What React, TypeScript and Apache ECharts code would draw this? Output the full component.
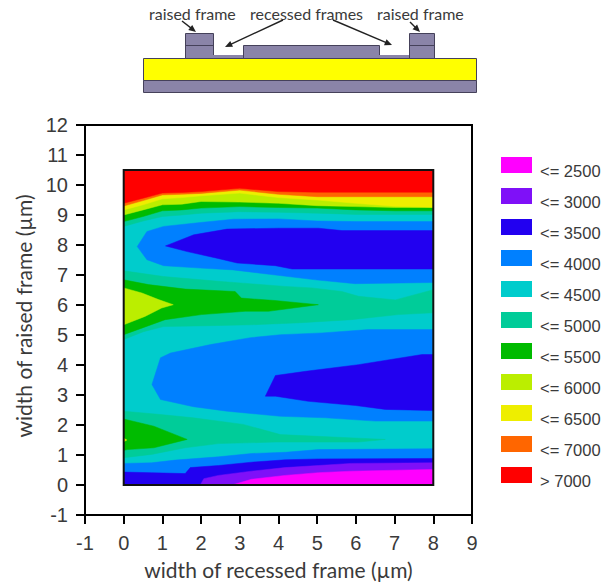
import React, { useEffect, useRef } from "react";
import * as echarts from "echarts";

type Pt = [number, number];

const legendLabels = ["<= 2500", "<= 3000", "<= 3500", "<= 4000", "<= 4500", "<= 5000", "<= 5500", "<= 6000", "<= 6500", "<= 7000", "> 7000"];
const legendColors = ["#ff00ff", "#7f10f8", "#2200f0", "#0080ff", "#00cccc", "#00cc99", "#00bb00", "#bbee00", "#eeee00", "#ff6600", "#ff0000"];
const [cMagenta, cPurple, cDeep, cBlue, cCyan, cTeal, cGreen, cLime, cYellow, cOrange, cRed] = legendColors;

const xTop = 8;
const yTop = 10.5;
const stations = [0, 0.5, 1, 1.5, 2, 3, 4, 5, 6, 7, 8];
const redLow = [9.39, 9.56, 9.73, 9.75, 9.78, 9.89, 9.78, 9.76, 9.76, 9.76, 9.76];
const orangeLow = [9.3, 9.48, 9.67, 9.69, 9.72, 9.83, 9.69, 9.61, 9.61, 9.61, 9.61];
const yellowLow = [9.17, 9.34, 9.54, 9.58, 9.64, 9.73, 9.58, 9.5, 9.39, 9.29, 9.26];
const limeLow = [9.0, 9.17, 9.34, 9.36, 9.45, 9.43, 9.39, 9.31, 9.28, 9.25, 9.25];
const greenLow = [8.78, 8.95, 9.14, 9.17, 9.23, 9.28, 9.25, 9.23, 9.17, 9.14, 9.14];
const tealLow = [8.62, 8.8, 8.95, 9.0, 9.06, 9.11, 9.09, 9.06, 9.02, 9.02, 9.02];

const bluePocketUpper: Pt[] = [[0.35, 7.95], [0.6, 8.45], [1.03, 8.62], [1.98, 8.75], [2.83, 8.86], [4, 8.87], [5, 8.8], [6, 8.78], [8, 8.78], [8, 6.75], [5.98, 6.71], [4.95, 6.84], [3.92, 7.0], [2.83, 7.17], [1.98, 7.23], [1.03, 7.31], [0.6, 7.51]];
const deepPocketUpper: Pt[] = [[1.08, 7.97], [1.81, 8.34], [2.67, 8.53], [4, 8.56], [5.03, 8.56], [5.64, 8.48], [8, 8.48], [8, 7.2], [4.35, 7.2], [3.92, 7.31], [2.93, 7.4], [2.41, 7.56], [1.64, 7.78]];
const tealMiddle: Pt[] = [[0, 7.14], [1.03, 6.95], [2.45, 6.79], [4.17, 6.62], [4.87, 6.57], [5.64, 6.45], [6.07, 6.29], [7.02, 6.17], [8, 6.51], [8, 5.74], [7.1, 5.68], [5.88, 5.51], [4.59, 5.41], [3.3, 5.34], [2.24, 5.31], [1.03, 5.28], [0.51, 5.11], [0, 4.85]];
const greenMiddle: Pt[] = [[0, 6.84], [0.64, 6.68], [1.59, 6.53], [2.88, 6.45], [3.04, 6.23], [3.91, 6.15], [5.03, 6.01], [3.74, 5.79], [3.14, 5.79], [2.01, 5.68], [1.07, 5.51], [0, 5.01]];
const limeMiddle: Pt[] = [[0, 6.57], [0.47, 6.4], [0.9, 6.18], [1.28, 6.01], [0.98, 5.9], [0.55, 5.62], [0, 5.34]];
const bluePocketLower: Pt[] = [[0.73, 3.35], [0.95, 4.24], [1.21, 4.4], [2.24, 4.68], [3.27, 4.91], [4.05, 5.01], [5.13, 5.07], [6.32, 5.18], [8, 5.18], [8, 2.13], [6.5, 2.13], [5.21, 2.24], [4.05, 2.29], [2.67, 2.46], [1.8, 2.61], [0.95, 2.85]];
const deepPocketLower: Pt[] = [[3.66, 2.96], [3.92, 3.65], [4.7, 3.79], [6.06, 4.01], [7.71, 4.35], [8, 4.35], [8, 2.48], [6.76, 2.52], [5.99, 2.65], [4.77, 2.79], [3.92, 2.96]];
const tealLower: Pt[] = [[0, 2.46], [0.95, 2.35], [1.8, 2.24], [3.09, 2.02], [4.05, 1.68], [6.76, 1.52], [6.06, 1.43], [3.92, 1.43], [2.45, 1.38], [1.59, 1.24], [0.72, 1.02], [0, 0.91]];
const greenLower: Pt[] = [[0, 2.2], [0.78, 1.96], [1.64, 1.52], [0.78, 1.24], [0.09, 1.18], [0, 1.15]];
const limeSpot: Pt[] = [[0, 1.56], [0.08, 1.5], [0, 1.44]];
const blueFloorEdge: Pt[] = [[0, 0.72], [0.72, 0.74], [1.33, 0.83], [2.45, 0.94], [3.3, 1.05], [4.17, 1.09], [5.03, 1.18], [8, 1.21]];
const deepFloorEdge: Pt[] = [[0, 0.43], [0.72, 0.41], [1.59, 0.38], [1.72, 0.58], [2.45, 0.65], [3.3, 0.76], [4.17, 0.84], [5.03, 0.87], [8, 0.885]];
const purpleFloorEdge: Pt[] = [[1.98, 0], [2.07, 0.21], [2.45, 0.32], [3.3, 0.46], [4.17, 0.58], [5.03, 0.65], [5.88, 0.72], [8, 0.74]];
const magentaFloorEdge: Pt[] = [[2.8, 0], [3.3, 0.19], [4.17, 0.32], [5.03, 0.41], [5.88, 0.46], [8, 0.52]];

const roof = (ys: number[]): Pt[] => [[0, yTop], ...stations.map((x, i): Pt => [x, ys[i]]), [xTop, yTop]];
const floor = (edge: Pt[]): Pt[] => [[edge[0][0], 0], ...edge, [xTop, 0]];

const bands: { points: Pt[]; fill: string }[] = [
  { points: [[0, 0], [0, yTop], [xTop, yTop], [xTop, 0]], fill: cCyan },
  { points: roof(tealLow), fill: cTeal },
  { points: roof(greenLow), fill: cGreen },
  { points: roof(limeLow), fill: cLime },
  { points: roof(yellowLow), fill: cYellow },
  { points: roof(orangeLow), fill: cOrange },
  { points: roof(redLow), fill: cRed },
  { points: bluePocketUpper, fill: cBlue },
  { points: deepPocketUpper, fill: cDeep },
  { points: tealMiddle, fill: cTeal },
  { points: greenMiddle, fill: cGreen },
  { points: limeMiddle, fill: cLime },
  { points: bluePocketLower, fill: cBlue },
  { points: deepPocketLower, fill: cDeep },
  { points: tealLower, fill: cTeal },
  { points: greenLower, fill: cGreen },
  { points: limeSpot, fill: cYellow },
  { points: floor(blueFloorEdge), fill: cBlue },
  { points: floor(deepFloorEdge), fill: cDeep },
  { points: floor(purpleFloorEdge), fill: cPurple },
  { points: floor(magentaFloorEdge), fill: cMagenta },
];
const frame: Pt[] = [[0, 0], [0, yTop], [xTop, yTop], [xTop, 0]];

const ink = "#3a3a3a";
const sans = "Liberation Sans";
const humanist = "Lato";
const stack = "#8a84a8";
const edge = "#45415a";

function arrow(x1: number, y1: number, x2: number, y2: number) {
  const a = Math.atan2(y2 - y1, x2 - x1);
  const len = 8;
  const spread = 0.42;
  return [
    { type: "line", silent: true, shape: { x1, y1, x2: x2 - 5 * Math.cos(a), y2: y2 - 5 * Math.sin(a) }, style: { stroke: "#222", lineWidth: 1.4 } },
    {
      type: "polygon", silent: true,
      shape: { points: [[x2, y2], [x2 - len * Math.cos(a - spread), y2 - len * Math.sin(a - spread)], [x2 - len * Math.cos(a + spread), y2 - len * Math.sin(a + spread)]] },
      style: { fill: "#222" },
    },
  ];
}

const box = (x: number, y: number, width: number, height: number, fill: string) => ({
  type: "rect", silent: true, shape: { x: x + 0.5, y: y + 0.5, width, height }, style: { fill, stroke: edge, lineWidth: 1 },
});
const note = (text: string, x: number) => ({
  type: "text", silent: true, x, y: 13,
  style: { text, fill: ink, font: `16px ${humanist}`, textAlign: "left", textVerticalAlign: "middle" },
});

const diagram = [
  box(143, 58, 333, 22, "#ffff00"),
  box(143, 80, 333, 12, stack),
  box(185, 33, 28, 25, stack),
  box(409, 33, 25, 25, stack),
  box(243, 45, 136, 13, stack),
  { type: "rect", silent: true, shape: { x: 213, y: 55, width: 30, height: 3 }, style: { fill: stack } },
  { type: "rect", silent: true, shape: { x: 379, y: 55, width: 30, height: 3 }, style: { fill: stack } },
  { type: "line", silent: true, shape: { x1: 185, y1: 45.5, x2: 213, y2: 45.5 }, style: { stroke: edge, lineWidth: 1 } },
  { type: "line", silent: true, shape: { x1: 409, y1: 45.5, x2: 434, y2: 45.5 }, style: { stroke: edge, lineWidth: 1 } },
  note("raised frame", 149),
  note("recessed frames", 250),
  note("raised frame", 377),
  ...arrow(182, 21, 196, 32),
  ...arrow(283, 20, 225, 47),
  ...arrow(333, 20, 392, 45),
  ...arrow(410, 22, 420, 32),
];

export default function App() {
  const ref = useRef<HTMLDivElement>(null);
  useEffect(() => {
    const chart = echarts.init(ref.current!, null, { renderer: "svg" });
    const axisBase = {
      type: "value",
      interval: 1,
      nameLocation: "middle",
      splitLine: { show: false },
      axisLine: { show: true, onZero: false, lineStyle: { color: "#000", width: 2 } },
      axisTick: { show: true, length: 9, lineStyle: { color: "#000", width: 2 } },
    };
    const labelStyle = { fontFamily: sans, fontSize: 20, color: ink };
    chart.setOption({
      animation: false,
      backgroundColor: "#fff",
      grid: { left: 85, right: 141, top: 125, bottom: 69, show: true, borderColor: "#000", borderWidth: 2, backgroundColor: "transparent" },
      xAxis: {
        ...axisBase, min: -1, max: 9, name: "width of recessed frame (µm)", nameGap: 44,
        nameTextStyle: { fontFamily: humanist, fontSize: 21, color: ink },
        axisLabel: { ...labelStyle, margin: 18 },
      },
      yAxis: {
        ...axisBase, min: -1, max: 12, name: "width of raised frame (µm)", nameGap: 51,
        nameTextStyle: { fontFamily: humanist, fontSize: 21, color: ink, padding: [0, 0, 0, 8] },
        axisLabel: { ...labelStyle, margin: 17 },
      },
      legend: {
        orient: "vertical", left: 501, top: 157, padding: 0, icon: "rect", itemWidth: 31, itemHeight: 16, itemGap: 8.5,
        selectedMode: false, data: legendLabels,
        formatter: (n: string) => `{t|${n}}`,
        textStyle: { rich: { t: { fontFamily: sans, fontSize: 16.5, color: ink, padding: [12, 0, 0, 3] } } },
      },
      graphic: diagram,
      series: [
        {
          type: "custom", name: "contour", silent: true, clip: false,
          data: bands.map((b) => b.points[0]),
          renderItem: (params: any, api: any) => {
            const b = bands[params.dataIndex];
            return { type: "polygon", shape: { points: b.points.map((p) => api.coord(p)) }, style: { fill: b.fill, stroke: b.fill, lineWidth: 0.5 } };
          },
        },
        {
          type: "custom", name: "frame", silent: true, clip: false, z: 5,
          data: [frame[0]],
          renderItem: (_p: any, api: any) => ({
            type: "polygon", shape: { points: frame.map((p) => api.coord(p)) }, style: { fill: "none", stroke: "#111", lineWidth: 2 },
          }),
        },
        ...legendLabels.map((name, i) => ({
          type: "custom", name, data: [], itemStyle: { color: legendColors[i] }, renderItem: () => null,
        })),
      ],
    });
    return () => chart.dispose();
  }, []);
  return <div ref={ref} style={{ position: "absolute", left: 0, top: 0, width: 613, height: 585 }} />;
}
